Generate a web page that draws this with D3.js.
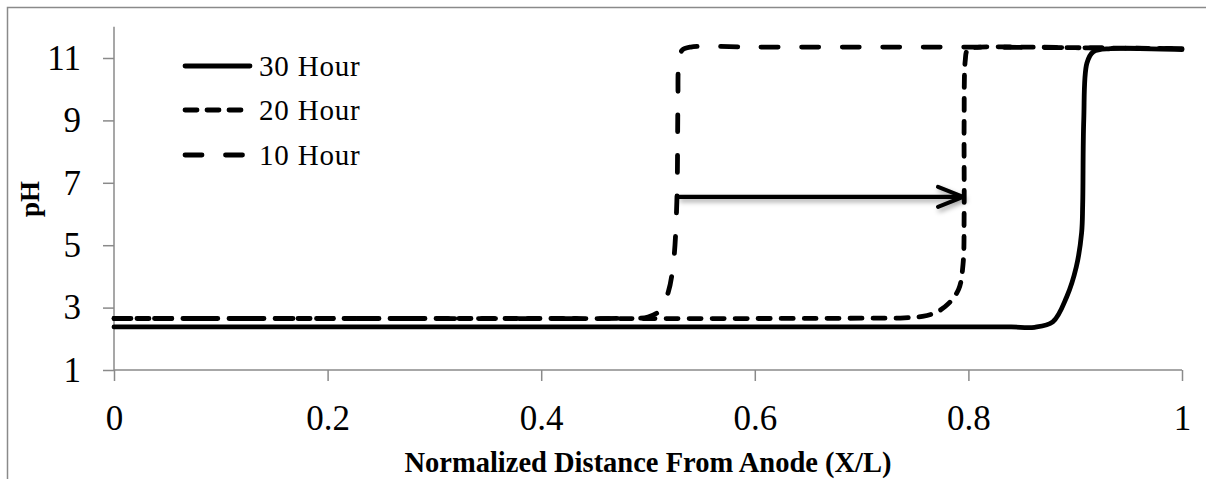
<!DOCTYPE html>
<html>
<head>
<meta charset="utf-8">
<script src="https://cdn.jsdelivr.net/npm/d3@7"></script>
<style>
  html, body { margin: 0; padding: 0; background: #fff; }
  svg { display: block; }
  text { font-family: "Liberation Serif", "Times New Roman", serif; fill: #000; }
</style>
</head>
<body>
<svg id="chart" width="1206" height="479"></svg>
<script>
// ---- Data ----
const seriesNames = ["30 Hour", "20 Hour", "10 Hour"];

const x30 = [0, 0.2, 0.4, 0.6, 0.8, 0.84, 0.862, 0.879, 0.892, 0.901, 0.906, 0.907, 0.908, 0.911, 0.917, 0.933, 0.96, 1.0];
const ph30 = [2.38, 2.38, 2.38, 2.38, 2.38, 2.38, 2.37, 2.54, 3.34, 4.3, 5.4, 6.3, 9.0, 10.84, 11.2, 11.3, 11.3, 11.27];

const x20 = [0, 0.2, 0.4, 0.6, 0.7, 0.74, 0.757, 0.77, 0.782, 0.791, 0.795, 0.796, 0.796, 0.797, 0.799, 0.805, 0.85, 0.9, 1.0];
const ph20 = [2.65, 2.65, 2.65, 2.65, 2.66, 2.67, 2.72, 2.85, 3.15, 3.6, 4.4, 6.0, 9.0, 10.9, 11.25, 11.33, 11.35, 11.33, 11.3];

const x10 = [0, 0.1, 0.2, 0.3, 0.4, 0.48, 0.50, 0.511, 0.519, 0.524, 0.527, 0.528, 0.529, 0.532, 0.54, 0.6, 0.7, 0.8, 0.9, 1.0];
const ph10 = [2.65, 2.65, 2.65, 2.65, 2.65, 2.66, 2.7, 2.9, 3.5, 4.5, 6.4, 9.5, 10.9, 11.25, 11.35, 11.35, 11.35, 11.35, 11.33, 11.3];

const arrowX = [0.528, 0.795];
const arrowPH = 6.55;

const xTicks = [0, 0.2, 0.4, 0.6, 0.8, 1];
const yTicks = [1, 3, 5, 7, 9, 11];

(function () {
// ---- Layout ----
const svg = d3.select("#chart");
const pLeft = 114, pRight = 1182, pTop = 26.8, pBottom = 370;

const x = d3.scaleLinear().domain([0, 1]).range([pLeft, pRight]);
const y = d3.scaleLinear().domain([1, 12]).range([pBottom, pTop]);

const grey = "#8a8a8a";
const serif = "'Liberation Serif', 'Times New Roman', serif";

// outer border (extends past right/bottom)
svg.append("rect").attr("x", 7.5).attr("y", 7.5).attr("width", 1300).attr("height", 600)
  .attr("fill", "none").attr("stroke", grey).attr("stroke-width", 1.5);

// shadow filter
const defs = svg.append("defs");
const f = defs.append("filter").attr("id", "shadow").attr("x", "-20%").attr("y", "-100%").attr("width", "140%").attr("height", "300%");
f.append("feDropShadow").attr("dx", 2).attr("dy", 3).attr("stdDeviation", 2.5).attr("flood-color", "#000").attr("flood-opacity", 0.35);

// axes
const xAxis = d3.axisBottom(x).tickValues(xTicks).tickSize(11).tickPadding(24)
  .tickFormat(d => d === 0 || d === 1 ? String(d) : d3.format(".1f")(d));
const gx = svg.append("g").attr("transform", `translate(0,${pBottom})`).call(xAxis);

const yAxis = d3.axisLeft(y).tickValues(yTicks).tickSize(11).tickPadding(22).tickFormat(d3.format("d"));
const gy = svg.append("g").attr("transform", `translate(${pLeft},0)`).call(yAxis);

[gx, gy].forEach(g => {
  g.attr("font-family", serif).attr("font-size", 35);
  g.selectAll("text").style("font-family", serif).style("font-size", "35px").attr("fill", "#000");
  g.select(".domain").attr("stroke", grey).attr("stroke-width", 1.5);
  g.selectAll(".tick line").attr("stroke", grey).attr("stroke-width", 1.5);
});
gx.select(".domain").attr("d", `M${pLeft},0H${pRight}`);
gy.select(".domain").attr("d", `M0,${pTop}V${pBottom}`);

// axis titles
svg.append("text").attr("x", (pLeft + pRight) / 2).attr("y", 472)
  .attr("text-anchor", "middle").style("font-family", serif).style("font-size", "28.5px").style("font-weight", "bold")
  .text("Normalized Distance From Anode (X/L)");

svg.append("text").attr("transform", "translate(39,199) rotate(-90)")
  .attr("text-anchor", "middle").style("font-family", serif).style("font-size", "27px").style("font-weight", "bold")
  .text("pH");

// lines
const line = d3.line().x(d => x(d[0])).y(d => y(d[1])).curve(d3.curveCatmullRom.alpha(0.5));
const dashes = { "30 Hour": null, "20 Hour": "12,11", "10 Hour": "17,23.5" };
const data = {
  "30 Hour": x30.map((v, i) => [v, ph30[i]]),
  "20 Hour": x20.map((v, i) => [v, ph20[i]]),
  "10 Hour": x10.map((v, i) => [v, ph10[i]])
};

["10 Hour", "20 Hour", "30 Hour"].forEach(name => {
  svg.append("path").datum(data[name]).attr("d", line)
    .attr("fill", "none").attr("stroke", "#000").attr("stroke-width", 4.8)
    .attr("stroke-linecap", "round").attr("stroke-linejoin", "round")
    .attr("stroke-dasharray", dashes[name]);
});

// arrow
const ag = svg.append("g").attr("filter", "url(#shadow)");
const ax0 = x(arrowX[0]), ax1 = x(arrowX[1]), ay = y(arrowPH);
ag.append("line").attr("x1", ax0).attr("y1", ay).attr("x2", ax1 - 2).attr("y2", ay)
  .attr("stroke", "#000").attr("stroke-width", 4.2);
ag.append("path").attr("d", `M${ax1 - 25},${ay - 10}L${ax1},${ay}L${ax1 - 25},${ay + 10}`)
  .attr("fill", "none").attr("stroke", "#000").attr("stroke-width", 4.2)
  .attr("stroke-linecap", "round").attr("stroke-linejoin", "round");

// legend
const legendY = [66, 110, 155];
const legendDash = { "30 Hour": null, "20 Hour": "12,10", "10 Hour": "17,23.5" };
seriesNames.forEach((name, i) => {
  const g = svg.append("g").attr("transform", `translate(0,${legendY[i]})`);
  g.append("line").attr("x1", 185).attr("x2", 250).attr("y1", 0).attr("y2", 0)
    .attr("stroke", "#000").attr("stroke-width", 4.8).attr("stroke-linecap", "round")
    .attr("stroke-dasharray", legendDash[name]);
  g.append("text").attr("x", 259).attr("y", 0).attr("dy", "0.33em")
    .style("font-family", serif).style("font-size", "29px").style("letter-spacing", "0.8px").text(name);
});
})();
</script>
</body>
</html>
